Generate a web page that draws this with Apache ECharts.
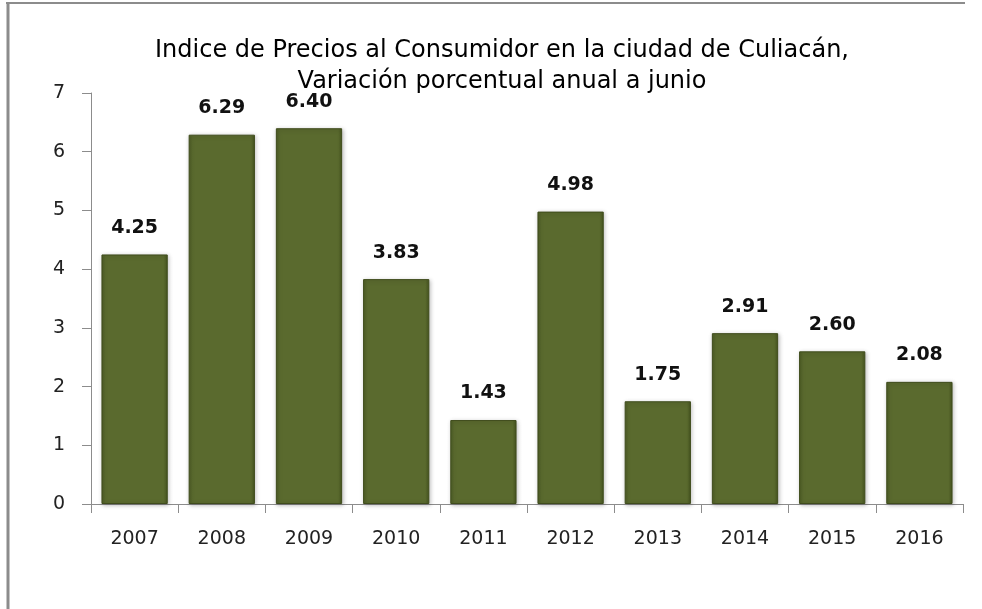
<!DOCTYPE html>
<html>
<head>
<meta charset="utf-8">
<script src="https://cdn.jsdelivr.net/npm/echarts@6/dist/echarts.min.js"></script>
<style>
  html, body { margin: 0; padding: 0; background: #fff; }
  #chart { width: 982px; height: 609px; }
</style>
</head>
<body>
<div id="chart"></div>
<script>
// años y variación porcentual
const years = ['2007', '2008', '2009', '2010', '2011', '2012', '2013', '2014', '2015', '2016'];
const values = [4.25, 6.29, 6.40, 3.83, 1.43, 4.98, 1.75, 2.91, 2.60, 2.08];
const yTicks = [0, 1, 2, 3, 4, 5, 6, 7];

const chart = echarts.init(document.getElementById('chart'));

const option = {
    animation: false,
    backgroundColor: '#fff',
    title: {
        text: 'Indice de Precios al Consumidor en la ciudad de Culiacán,\nVariación porcentual anual a junio',
        left: 497,
        top: 30,
        textAlign: 'center',
        textStyle: {
            fontFamily: 'DejaVu Sans',
            fontSize: 24,
            fontWeight: 'normal',
            color: '#000',
            lineHeight: 31
        }
    },
    graphic: [
        // marco del gráfico
        { type: 'line', shape: { x1: 6, y1: 3, x2: 965, y2: 3 }, style: { stroke: '#8c8c8c', lineWidth: 2 } },
        { type: 'line', shape: { x1: 8, y1: 3, x2: 8, y2: 609 }, style: { stroke: '#8c8c8c', lineWidth: 3 } }
    ],
    grid: {
        left: 91,
        right: 19,
        top: 93,
        bottom: 105
    },
    xAxis: {
        type: 'category',
        data: years,
        axisLine: { lineStyle: { color: '#8c8c8c', width: 1 } },
        axisTick: { show: true, length: 9, alignWithLabel: false, lineStyle: { color: '#8c8c8c' } },
        axisLabel: {
            fontFamily: 'DejaVu Sans',
            fontSize: 19,
            color: '#222',
            margin: 26
        }
    },
    yAxis: {
        type: 'value',
        min: yTicks[0],
        max: yTicks[yTicks.length - 1],
        interval: 1,
        splitLine: { show: false },
        axisLine: { show: true, lineStyle: { color: '#8c8c8c', width: 1 } },
        axisTick: { show: true, length: 9, lineStyle: { color: '#8c8c8c' } },
        axisLabel: {
            fontFamily: 'DejaVu Sans',
            fontSize: 19,
            color: '#222',
            margin: 26
        }
    },
    series: [{
        type: 'bar',
        data: values,
        barCategoryGap: '24%',
        itemStyle: {
            color: {
                type: 'linear', x: 0, y: 0, x2: 1, y2: 0,
                colorStops: [
                    { offset: 0, color: '#4d5c25' },
                    { offset: 0.06, color: '#5a6a2e' },
                    { offset: 0.94, color: '#5a6a2e' },
                    { offset: 1, color: '#46541f' }
                ]
            },
            borderColor: '#3f4c1c',
            borderWidth: 1,
            shadowColor: 'rgba(0,0,0,0.25)',
            shadowBlur: 4,
            shadowOffsetX: 1,
            shadowOffsetY: 1
        },
        label: {
            show: true,
            position: 'top',
            distance: 17,
            formatter: p => p.value.toFixed(2),
            fontFamily: 'DejaVu Sans',
            fontWeight: 'bold',
            fontSize: 19,
            color: '#111'
        }
    }]
};

chart.setOption(option);
</script>
</body>
</html>
